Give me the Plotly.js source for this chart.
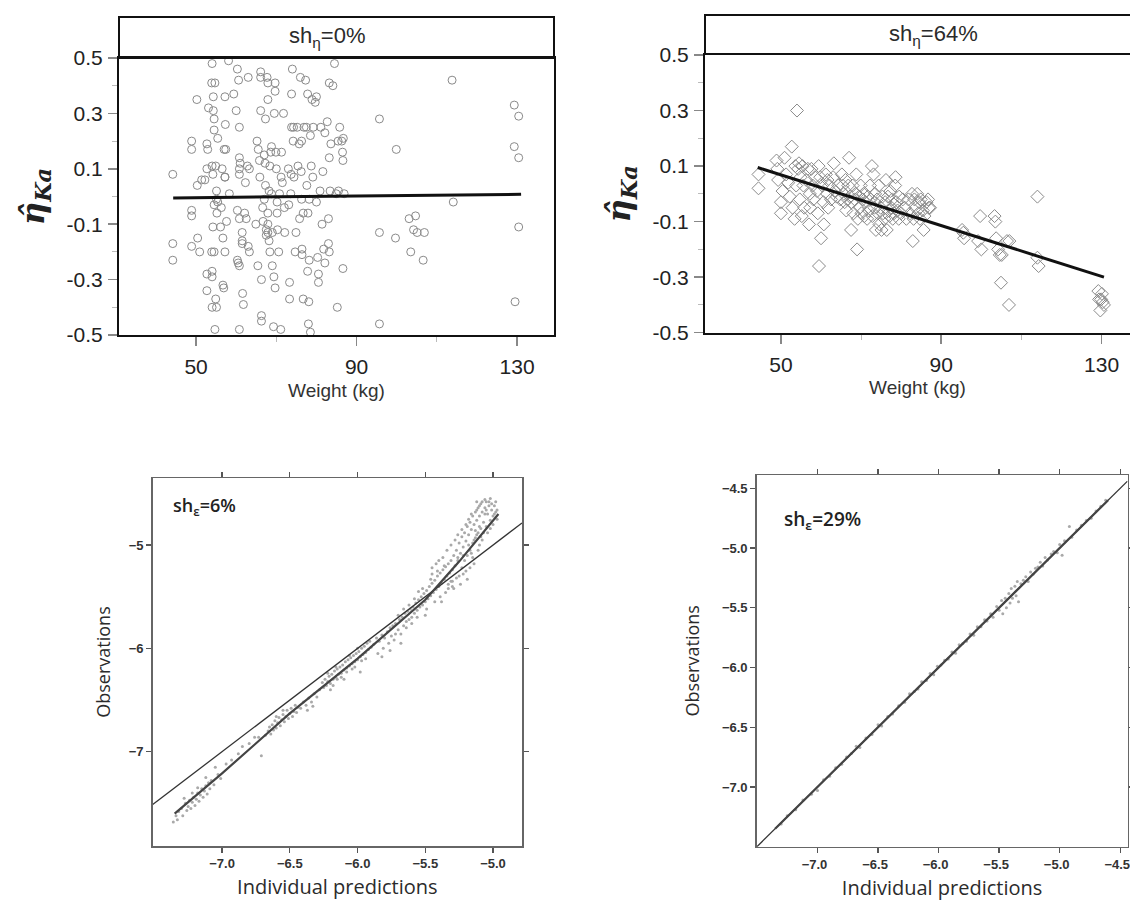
<!DOCTYPE html>
<html><head><meta charset="utf-8">
<script src="https://cdn.plot.ly/plotly-3.0.1.min.js"></script>
<style>html,body{margin:0;padding:0;background:#fff}#chart{width:1130px;height:905px}</style>
</head><body><div id="chart"></div>
<script>
// ---------- Top-left: sh_eta = 0% ----------
const tlWeight = [44.2,44.2,44.2,48.9,48.9,48.9,48.9,48.9,50.2,50.3,50.4,50.9,51.4,52.2,52.7,52.7,52.9,52.7,52.7,53.1,
 54.0,53.9,54.7,54.3,54.3,54.5,54.5,54.0,54.2,54.9,55.1,55.1,54.5,54.2,53.9,54.5,54.0,54.0,54.0,55.1,54.9,54.7,55.4,55.4,55.2,
 56.1,56.3,56.5,57.0,56.7,56.7,56.9,57.2,57.3,57.4,57.2,57.6,58.1,58.3,57.2,57.2,
 59.4,60.0,60.3,60.6,60.8,60.8,60.8,60.8,61.0,60.3,60.8,60.3,60.5,60.8,60.8,61.5,61.5,61.5,61.6,61.8,62.1,62.3,62.5,62.8,63.0,63.3,63.0,63.3,
 64.9,65.2,65.4,65.5,65.8,65.9,66.1,66.1,66.1,66.3,66.3,66.3,66.6,66.7,67.0,67.0,67.2,67.3,67.3,67.5,67.5,67.7,67.9,67.9,67.9,67.9,67.9,68.2,68.2,68.4,68.4,68.6,68.8,68.8,69.0,69.0,69.3,69.4,69.5,69.7,69.7,69.7,69.9,70.0,70.2,70.2,70.3,70.6,70.8,71.1,71.2,71.3,71.5,71.8,72.0,72.1,
 73.0,73.1,73.3,73.3,73.6,73.7,73.8,73.8,74.0,74.2,74.3,74.4,74.7,74.9,75.2,75.4,75.7,75.8,76.0,76.2,76.3,76.3,76.4,76.4,76.7,76.7,76.9,77.3,77.5,77.6,77.8,77.8,77.9,78.0,78.1,78.2,78.2,78.5,78.5,78.7,78.9,79.1,79.2,
 79.7,80.0,80.0,80.3,80.5,80.5,80.9,81.1,81.4,81.6,81.8,82.1,82.1,82.7,83.0,83.0,83.2,83.2,83.2,83.4,83.6,84.1,84.5,84.9,85.2,85.4,85.5,85.8,86.3,86.5,86.6,86.6,86.7,86.9,
 95.7,95.7,95.7,99.7,99.9,103.1,103.5,104.2,104.7,105.1,106.6,106.9,113.8,114.1,129.3,130.4,129.3,130.4,130.4,129.5];
const tlEta = [0.08,-0.17,-0.23,0.20,0.17,-0.05,-0.07,-0.18,0.35,0.04,-0.15,-0.20,0.06,0.06,0.10,0.19,0.17,-0.28,-0.34,0.32,
 0.48,0.41,0.41,0.36,0.31,0.28,0.24,0.11,0.08,0.11,0.02,-0.01,-0.03,-0.11,-0.20,-0.20,-0.27,-0.29,-0.40,-0.40,-0.37,-0.48,0.21,-0.02,-0.06,
 -0.11,-0.04,0.10,0.17,-0.15,-0.32,-0.33,0.36,0.26,0.17,0.07,-0.09,0.49,0.01,-0.20,0.07,
 0.37,0.31,0.46,0.42,0.25,0.14,0.08,0.10,0.12,-0.05,-0.08,-0.23,-0.24,-0.25,-0.48,-0.13,-0.16,-0.17,-0.35,-0.39,-0.06,0.05,-0.08,0.11,0.43,0.10,-0.18,-0.20,
 -0.10,0.20,-0.25,0.17,0.13,0.07,0.45,0.43,0.31,-0.43,-0.45,-0.30,-0.04,-0.09,0.15,-0.01,0.12,0.28,0.04,-0.12,-0.14,0.43,0.41,0.35,-0.06,-0.10,-0.13,0.02,-0.16,-0.20,0.11,0.16,0.18,0.01,-0.13,-0.25,-0.47,-0.29,0.30,0.38,0.41,-0.33,0.16,0.10,-0.02,-0.06,-0.12,-0.20,0.01,-0.48,0.07,0.16,0.05,0.30,-0.04,-0.13,
 0.10,-0.03,-0.31,-0.37,0.01,0.08,0.37,0.25,0.46,0.20,0.25,0.07,-0.20,-0.13,0.25,0.11,0.19,-0.08,0.43,0.09,0.20,-0.01,-0.19,-0.21,-0.06,-0.37,0.25,0.42,0.25,0.04,0.37,-0.27,-0.06,-0.46,-0.38,-0.01,-0.23,0.22,-0.49,0.11,0.35,0.07,0.25,
 0.34,0.36,-0.02,-0.22,-0.28,-0.31,0.02,0.25,-0.10,0.09,-0.19,0.23,-0.24,0.27,-0.08,-0.17,0.41,-0.20,0.14,0.02,0.19,0.40,0.48,0.01,-0.40,0.20,0.02,0.25,0.20,0.16,0.13,-0.26,0.21,0.01,
 0.28,-0.13,-0.46,-0.15,0.17,-0.08,-0.20,-0.12,-0.07,-0.13,-0.23,-0.13,0.42,-0.02,0.33,0.29,0.18,0.14,-0.11,-0.38];
const tlFitWeight = [44.3, 131.0];
const tlFitEta = [-0.005, 0.008];

// ---------- Top-right: sh_eta = 64% ----------
const trWeight = [44.4,44.4,48.9,49.1,49.3,50.0,50.0,50.4,50.9,51.3,51.8,52.2,52.7,52.9,53.4,53.6,53.8,54.0,54.3,54.5,54.7,54.9,55.2,55.4,55.6,55.8,
 56.3,56.7,57.0,57.2,57.3,57.6,57.9,58.1,58.5,59.0,59.2,59.4,59.5,59.8,60.0,60.3,60.6,60.7,61.2,61.5,61.6,61.8,62.1,62.5,63.0,63.2,63.4,63.9,64.3,64.8,
 65.2,65.4,65.7,65.9,66.1,66.3,66.6,66.8,67.0,67.2,67.5,67.6,67.9,68.1,68.4,68.6,68.8,69.0,69.2,69.5,69.7,69.9,70.1,70.4,70.6,70.8,71.0,71.5,71.7,71.9,
 72.2,72.4,72.7,72.8,73.1,73.3,73.5,73.7,74.0,74.2,74.4,74.6,74.9,75.1,75.3,75.5,75.8,76.0,76.2,76.4,76.7,76.9,77.1,77.3,77.6,77.8,77.9,78.2,78.5,78.6,
 78.8,79.1,79.4,79.5,80.0,80.4,80.9,81.3,81.8,82.2,82.7,82.9,83.1,83.3,83.6,84.0,84.3,84.5,84.7,84.9,85.4,85.6,85.8,86.3,86.7,86.9,87.2,
 95.2,95.5,95.7,99.2,99.7,100.0,103.3,103.5,103.7,104.2,104.6,104.9,105.1,106.4,106.9,107.0,114.0,114.0,114.3,129.2,129.4,129.7,130.1,130.3,130.6,129.9];
const trEta = [0.07,0.02,0.12,0.09,0.05,-0.03,-0.07,0.01,0.13,0.07,0.04,-0.01,0.17,-0.05,-0.09,0.10,0.03,0.30,0.09,0.11,-0.02,0.06,-0.08,0.10,0.03,-0.05,
 0.05,0.09,-0.11,0.00,-0.05,0.09,0.03,-0.02,0.06,0.01,-0.07,0.10,-0.26,0.06,-0.16,0.03,-0.03,-0.11,0.07,0.00,0.05,-0.05,0.03,-0.02,0.06,0.11,0.01,-0.01,0.03,-0.02,
 0.07,0.03,0.00,-0.03,0.05,-0.06,-0.02,0.03,0.13,-0.01,-0.13,-0.03,0.03,-0.07,-0.02,0.00,0.07,-0.20,-0.09,-0.01,-0.05,0.03,-0.07,-0.02,0.00,-0.08,-0.03,-0.09,-0.01,-0.06,
 0.03,-0.02,0.10,-0.08,0.07,-0.05,0.00,-0.13,-0.02,-0.07,0.03,-0.11,-0.05,-0.13,-0.01,-0.07,-0.09,-0.03,0.05,-0.13,-0.01,-0.06,-0.08,0.01,-0.05,-0.02,-0.09,-0.07,0.03,0.06,
 -0.03,-0.06,-0.09,-0.01,-0.07,-0.02,-0.05,-0.09,-0.02,-0.07,0.00,-0.17,-0.09,-0.02,-0.05,0.00,-0.07,-0.03,-0.09,-0.02,-0.06,-0.13,-0.08,-0.03,-0.02,-0.05,-0.05,
 -0.13,-0.14,-0.16,-0.17,-0.08,-0.20,-0.08,-0.10,-0.16,-0.20,-0.22,-0.32,-0.22,-0.17,-0.40,-0.17,-0.01,-0.23,-0.26,-0.35,-0.38,-0.42,-0.36,-0.39,-0.40,-0.38];
const trFitWeight = [44.2, 130.6];
const trFitEta = [0.095, -0.30];

// ---------- Bottom-left: sh_eps = 6% ----------
const blPred = [-7.36,-7.33,-7.32,-7.30,-7.29,-7.27,-7.26,-7.25,-7.24,-7.23,-7.22,-7.21,-7.20,-7.19,-7.18,-7.17,-7.16,-7.15,-7.14,-7.13,-7.12,-7.11,-7.10,-7.09,-7.08,-7.06,-7.05,-7.03,-7.01,-7.28,-7.22,-7.34,-7.18,-7.12,
 -6.97,-6.93,-6.88,-6.85,-6.80,-6.76,-6.73,-6.71,
 -6.68,-6.66,-6.65,-6.64,-6.63,-6.62,-6.61,-6.60,-6.59,-6.58,-6.57,-6.56,-6.55,-6.54,-6.53,-6.52,-6.51,-6.50,-6.49,-6.48,-6.47,-6.46,-6.45,-6.44,-6.60,-6.55,
 -6.42,-6.40,-6.38,-6.36,-6.34,-6.32,-6.30,-6.37,-6.33,
 -6.28,-6.26,-6.25,-6.24,-6.23,-6.22,-6.21,-6.20,-6.19,-6.18,-6.17,-6.16,-6.15,-6.14,-6.13,-6.12,-6.11,-6.10,-6.09,-6.08,-6.07,-6.06,-6.05,-6.04,-6.03,-6.02,-6.01,-6.00,-5.99,-5.98,-5.97,-5.96,-5.95,-5.94,-5.93,-5.92,-5.91,-5.90,-6.20,-6.10,-5.98,
 -6.18,-6.15,-6.12,-6.08,-6.04,-6.02,-5.97,-5.94,-6.22,-6.16,-6.06,-6.00,
 -5.88,-5.86,-5.85,-5.84,-5.82,-5.81,-5.80,-5.78,-5.77,-5.76,-5.75,-5.74,-5.73,-5.72,-5.70,-5.69,-5.68,-5.67,-5.66,-5.65,-5.64,-5.63,-5.62,-5.61,-5.60,
 -5.70,-5.66,-5.62,-5.60,-5.64,-5.72,-5.68,-5.76,-5.82,
 -5.59,-5.58,-5.57,-5.56,-5.55,-5.54,-5.53,-5.52,-5.51,-5.50,-5.49,-5.48,-5.47,-5.46,-5.45,-5.44,-5.43,-5.42,-5.41,-5.40,-5.39,-5.38,-5.37,-5.36,-5.35,-5.34,-5.33,-5.32,-5.31,-5.30,-5.45,-5.40,-5.35,-5.38,-5.30,-5.55,-5.50,
 -5.58,-5.56,-5.52,-5.49,-5.46,-5.43,-5.41,-5.39,-5.36,-5.33,-5.31,-5.45,-5.42,-5.37,
 -5.29,-5.28,-5.27,-5.26,-5.25,-5.25,-5.24,-5.23,-5.23,-5.22,-5.21,-5.21,-5.20,-5.19,-5.19,-5.18,-5.17,-5.17,-5.16,-5.15,-5.15,-5.14,-5.13,-5.13,-5.12,-5.11,-5.11,-5.10,-5.09,-5.09,-5.08,-5.07,-5.06,-5.05,-5.05,-5.04,-5.03,-5.02,-5.01,-5.00,-4.99,-4.98,-4.97,-5.30,-5.20,-5.10,-5.08,-5.15,-5.02,-5.06,-5.12,
 -5.34,-5.33,-5.31,-5.29,-5.28,-5.27,-5.26,-5.24,-5.23,-5.22,-5.20,-5.19,-5.18,-5.17,-5.16,-5.14,-5.13,-5.12,-5.11,-5.10,-5.09,-5.08,-5.07,-5.06,-5.05,-5.04,-5.03,-5.02,-5.01,-5.00,-4.99,-4.98,-4.97,-5.18,-5.22,-5.26,-5.14,-5.10,-5.16,-5.12];
const blObs = [-7.68,-7.66,-7.58,-7.55,-7.62,-7.50,-7.57,-7.53,-7.47,-7.55,-7.49,-7.44,-7.52,-7.46,-7.40,-7.48,-7.42,-7.36,-7.44,-7.38,-7.33,-7.41,-7.30,-7.36,-7.28,-7.32,-7.15,-7.22,-7.26,-7.45,-7.40,-7.62,-7.35,-7.25,
 -7.12,-7.08,-7.02,-6.95,-6.92,-6.86,-6.86,-7.04,
 -6.84,-6.80,-6.76,-6.83,-6.74,-6.79,-6.70,-6.77,-6.72,-6.67,-6.75,-6.69,-6.64,-6.71,-6.66,-6.60,-6.68,-6.63,-6.58,-6.66,-6.61,-6.55,-6.62,-6.57,-6.66,-6.60,
 -6.58,-6.52,-6.55,-6.48,-6.52,-6.44,-6.47,-6.60,-6.56,
 -6.40,-6.33,-6.38,-6.30,-6.36,-6.32,-6.27,-6.34,-6.25,-6.30,-6.22,-6.28,-6.20,-6.25,-6.18,-6.24,-6.16,-6.21,-6.13,-6.19,-6.11,-6.17,-6.09,-6.15,-6.07,-6.13,-6.05,-6.11,-6.03,-6.08,-6.00,-6.06,-5.98,-6.04,-5.95,-6.01,-5.93,-5.99,-6.40,-6.30,-6.23,
 -6.36,-6.30,-6.28,-6.23,-6.20,-6.18,-6.12,-6.10,-6.24,-6.18,-6.07,-6.00,
 -5.96,-5.90,-6.05,-5.93,-5.87,-6.00,-5.90,-5.84,-5.95,-5.80,-5.88,-5.78,-5.92,-5.76,-5.82,-5.72,-5.86,-5.70,-5.78,-5.66,-5.74,-5.64,-5.72,-5.62,-5.70,
 -5.68,-5.62,-5.58,-5.76,-5.80,-5.86,-5.95,-6.02,-6.08,
 -5.60,-5.66,-5.56,-5.63,-5.53,-5.60,-5.50,-5.58,-5.47,-5.55,-5.44,-5.52,-5.40,-5.49,-5.37,-5.46,-5.34,-5.43,-5.30,-5.40,-5.27,-5.37,-5.24,-5.33,-5.21,-5.30,-5.18,-5.27,-5.15,-5.24,-5.22,-5.15,-5.46,-5.55,-5.40,-5.45,-5.68,
 -5.52,-5.70,-5.42,-5.62,-5.33,-5.55,-5.25,-5.50,-5.20,-5.42,-5.35,-5.28,-5.18,-5.12,
 -5.10,-5.20,-5.05,-5.15,-4.98,-5.30,-5.08,-4.92,-5.22,-5.02,-4.88,-5.15,-4.96,-4.82,-5.10,-4.90,-4.78,-5.05,-4.85,-4.72,-4.98,-4.80,-4.68,-4.93,-4.76,-4.64,-4.88,-4.72,-4.60,-4.84,-4.68,-4.78,-4.64,-4.58,-4.82,-4.70,-4.62,-4.76,-4.66,-4.72,-4.62,-4.68,-4.75,-5.35,-5.25,-5.00,-4.95,-5.12,-4.55,-4.56,-4.58,
 -5.05,-5.38,-5.00,-5.42,-4.95,-5.32,-4.90,-5.38,-4.85,-5.28,-4.80,-5.33,-4.75,-5.22,-4.70,-5.18,-4.86,-4.66,-5.05,-4.62,-4.92,-4.58,-4.88,-4.70,-4.66,-4.88,-4.58,-4.84,-4.60,-4.80,-4.70,-4.58,-4.66,-5.00,-5.10,-5.12,-4.95,-4.82,-5.08,-4.90];
const blFitPred = [-7.35, -7.0, -6.5, -6.0, -5.5, -5.25, -4.96];
const blFitObs = [-7.60, -7.21, -6.63, -6.10, -5.53, -5.16, -4.70];
const blIdentity = [-7.512, -4.786];

// ---------- Bottom-right: sh_eps = 29% ----------
const brPred = [-7.30,-7.25,-7.18,-7.12,-7.05,-7.00,-6.95,-6.90,-6.85,-6.80,-6.76,-6.72,-6.68,-6.65,-6.60,-6.55,-6.50,-6.47,-6.42,-6.38,-6.33,-6.28,-6.24,-6.20,-6.17,-6.14,-6.10,-6.07,-6.04,-6.01,
 -5.98,-5.95,-5.92,-5.89,-5.86,-5.83,-5.80,-5.77,-5.74,-5.71,-5.68,-5.65,-5.62,-5.60,-5.57,-5.55,-5.52,-5.50,-5.48,-5.47,-5.45,-5.44,-5.42,-5.41,-5.40,-5.39,-5.37,-5.36,-5.35,-5.34,
 -5.32,-5.30,-5.28,-5.26,-5.24,-5.22,-5.20,-5.18,-5.16,-5.14,-5.12,-5.10,-5.07,-5.05,-5.02,-5.00,-4.98,-4.96,-4.92,-4.90,-4.86,-4.82,-4.78,-4.74,-4.70,-4.66,-4.62];
const brObs = [-7.31,-7.24,-7.19,-7.11,-7.06,-7.03,-6.94,-6.91,-6.84,-6.81,-6.75,-6.72,-6.66,-6.67,-6.59,-6.56,-6.48,-6.49,-6.41,-6.39,-6.32,-6.29,-6.22,-6.20,-6.18,-6.12,-6.11,-6.05,-6.06,-5.99,
 -5.98,-5.94,-5.93,-5.87,-5.88,-5.81,-5.80,-5.78,-5.72,-5.73,-5.66,-5.66,-5.60,-5.61,-5.55,-5.58,-5.49,-5.52,-5.44,-5.55,-5.42,-5.50,-5.38,-5.46,-5.34,-5.42,-5.32,-5.40,-5.28,-5.45,
 -5.30,-5.27,-5.24,-5.28,-5.20,-5.22,-5.17,-5.16,-5.12,-5.15,-5.08,-5.10,-5.05,-5.03,-5.04,-4.97,-5.06,-4.94,-4.82,-4.91,-4.85,-4.81,-4.77,-4.75,-4.69,-4.65,-4.60];
const brFitPred = [-7.35, -4.60];
const brFitObs = [-7.35, -4.60];
const brIdentity = [-7.502, -4.44];

// tick labels
const topXTicks = [50, 90, 130];
const topXMinor = [70, 110];
const topYTicks = [0.5, 0.3, 0.1, -0.1, -0.3, -0.5];
const topYTickText = ['0.5', '0.3', '0.1', '-0.1', '-0.3', '-0.5'];
const topYMinor = [0.4, 0.2, 0.0, -0.2, -0.4];
const blXTicks = [-7.0, -6.5, -6.0, -5.5, -5.0];
const blYTicks = [-5, -6, -7];
const brXTicks = [-7.0, -6.5, -6.0, -5.5, -5.0, -4.5];
const brYTicks = [-4.5, -5.0, -5.5, -6.0, -6.5, -7.0];

const W = 1130, H = 905;
const px = v => v / W, py = v => 1 - v / H;

const traces = [
  {x: tlWeight, y: tlEta, xaxis: 'x', yaxis: 'y', mode: 'markers', type: 'scatter',
   marker: {symbol: 'circle-open', size: 8, color: '#8a8a8a', line: {width: 1}}},
  {x: tlFitWeight, y: tlFitEta, xaxis: 'x', yaxis: 'y', mode: 'lines', type: 'scatter', line: {color: '#111', width: 3}},
  {x: trWeight, y: trEta, xaxis: 'x2', yaxis: 'y2', mode: 'markers', type: 'scatter',
   marker: {symbol: 'diamond-open', size: 10, color: '#8a8a8a', line: {width: 1}}},
  {x: trFitWeight, y: trFitEta, xaxis: 'x2', yaxis: 'y2', mode: 'lines', type: 'scatter', line: {color: '#111', width: 3}},
  {x: blPred, y: blObs, xaxis: 'x3', yaxis: 'y3', mode: 'markers', type: 'scatter',
   marker: {symbol: 'circle', size: 3, color: '#a9a9a9'}},
  {x: blIdentity, y: blIdentity, xaxis: 'x3', yaxis: 'y3', mode: 'lines', type: 'scatter', line: {color: '#333', width: 1.3}},
  {x: blFitPred, y: blFitObs, xaxis: 'x3', yaxis: 'y3', mode: 'lines', type: 'scatter', line: {color: '#444', width: 2.2}},
  {x: brPred, y: brObs, xaxis: 'x4', yaxis: 'y4', mode: 'markers', type: 'scatter',
   marker: {symbol: 'circle', size: 3, color: '#a9a9a9'}},
  {x: brIdentity, y: brIdentity, xaxis: 'x4', yaxis: 'y4', mode: 'lines', type: 'scatter', line: {color: '#333', width: 1.3}},
  {x: brFitPred, y: brFitObs, xaxis: 'x4', yaxis: 'y4', mode: 'lines', type: 'scatter', line: {color: '#444', width: 2.2}}
];

const topTickFont = {family: 'Liberation Sans, Arial, sans-serif', size: 21, color: '#222'};
const etaTitle = {text: 'η̂<sub>Ka</sub>', font: {family: 'DejaVu Serif, serif', size: 32, color: '#222', weight: 'bold', style: 'italic'}, standoff: 12};
const botTickFont = {family: 'Liberation Sans Narrow, Liberation Sans, sans-serif', size: 13, color: '#333', weight: 'bold'};

function topX(domain, range, mirror) {
  return {domain, range, tickvals: topXTicks, ticks: 'outside', ticklen: 9, tickwidth: 1.5, tickcolor: '#888',
    minor: {tickvals: topXMinor, ticks: 'outside', ticklen: 5, tickcolor: '#bbb', tickwidth: 1},
    showline: true, linecolor: '#111', linewidth: 2, mirror, showgrid: false, zeroline: false,
    tickfont: topTickFont, ticklabelstandoff: 3, ticklabeloverflow: 'allow',
    title: {text: 'Weight (kg)', font: {family: 'Liberation Sans, Arial, sans-serif', size: 19, color: '#333'}, standoff: 6}};
}
function topY(domain, anchor, mirror) {
  return {domain, anchor, range: [-0.5, 0.5], tickvals: topYTicks, ticktext: topYTickText, ticks: 'outside', ticklen: 9, tickwidth: 1.5, tickcolor: '#888',
    minor: {tickvals: topYMinor, ticks: 'outside', ticklen: 5, tickcolor: '#bbb', tickwidth: 1},
    showline: true, linecolor: '#111', linewidth: 2, mirror, showgrid: false, zeroline: false,
    tickfont: topTickFont, ticklabelstandoff: 1, ticklabeloverflow: 'allow', title: etaTitle};
}
function botAxis(domain, range, tickvals, fmt, title, size, standoff, anchor) {
  return {domain, range, anchor, tickvals, tickformat: fmt, ticks: 'outside', ticklen: 5, tickwidth: 1.3, tickcolor: '#555',
    showline: true, linecolor: '#666', linewidth: 1.5, mirror: 'ticks', showgrid: false, zeroline: false,
    tickfont: botTickFont, ticklabeloverflow: 'allow',
    title: {text: title, font: {family: 'Open Sans, sans-serif', size, color: '#2b2b2b', weight: 500}, standoff}};
}

const layout = {
  width: W, height: H, margin: {l: 0, r: 0, t: 0, b: 0}, showlegend: false,
  paper_bgcolor: '#fff', plot_bgcolor: '#fff',
  xaxis: Object.assign(topX([px(119), px(554)], [30.8, 139.2], true), {anchor: 'y'}),
  yaxis: topY([py(335), py(58)], 'x', true),
  xaxis2: Object.assign(topX([px(705), 1.0], [31.05, 137.1], true), {anchor: 'y2'}),
  yaxis2: topY([py(332.7), py(55)], 'x2', false),
  xaxis3: botAxis([px(152.7), px(522)], [-7.512, -4.786], blXTicks, '.1f', 'Individual predictions', 20, 10, 'y3'),
  yaxis3: botAxis([py(846), py(478)], [-7.913, -4.351], blYTicks, 'd', 'Observations', 18, 13, 'x3'),
  xaxis4: Object.assign(botAxis([px(756.7), px(1127.5)], [-7.502, -4.44], brXTicks, '.1f', 'Individual predictions', 20, 10, 'y4'), {ticklabelshift: -3}),
  yaxis4: botAxis([py(846.7), py(475)], [-7.50, -4.389], brYTicks, '.1f', 'Observations', 18, 17, 'x4'),
  shapes: [
    {type: 'rect', xref: 'paper', yref: 'paper', x0: px(119), x1: px(554), y0: py(58), y1: py(17), line: {color: '#111', width: 2}},
    {type: 'path', xref: 'paper', yref: 'paper', path: `M ${px(705)} ${py(55)} L ${px(705)} ${py(15)} L 1 ${py(15)}`, line: {color: '#111', width: 2}}
  ],
  annotations: [
    {xref: 'paper', yref: 'paper', x: px(327), y: py(37), text: 'sh<sub>η</sub>=0%', showarrow: false,
     font: {family: 'Liberation Sans, Arial, sans-serif', size: 22, color: '#2b2b2b'}, xanchor: 'center', yanchor: 'middle'},
    {xref: 'paper', yref: 'paper', x: px(933), y: py(35), text: 'sh<sub>η</sub>=64%', showarrow: false,
     font: {family: 'Liberation Sans, Arial, sans-serif', size: 22, color: '#2b2b2b'}, xanchor: 'center', yanchor: 'middle'},
    {xref: 'paper', yref: 'paper', x: px(171), y: py(507), text: 'sh<sub>ε</sub>=6%', showarrow: false,
     font: {family: 'Open Sans, sans-serif', size: 18, color: '#222', weight: 600}, xanchor: 'left', yanchor: 'middle'},
    {xref: 'paper', yref: 'paper', x: px(782), y: py(520), text: 'sh<sub>ε</sub>=29%', showarrow: false,
     font: {family: 'Open Sans, sans-serif', size: 19, color: '#222', weight: 600}, xanchor: 'left', yanchor: 'middle'}
  ]
};

Plotly.newPlot('chart', traces, layout, {displayModeBar: false, staticPlot: true});
</script>
</body></html>
